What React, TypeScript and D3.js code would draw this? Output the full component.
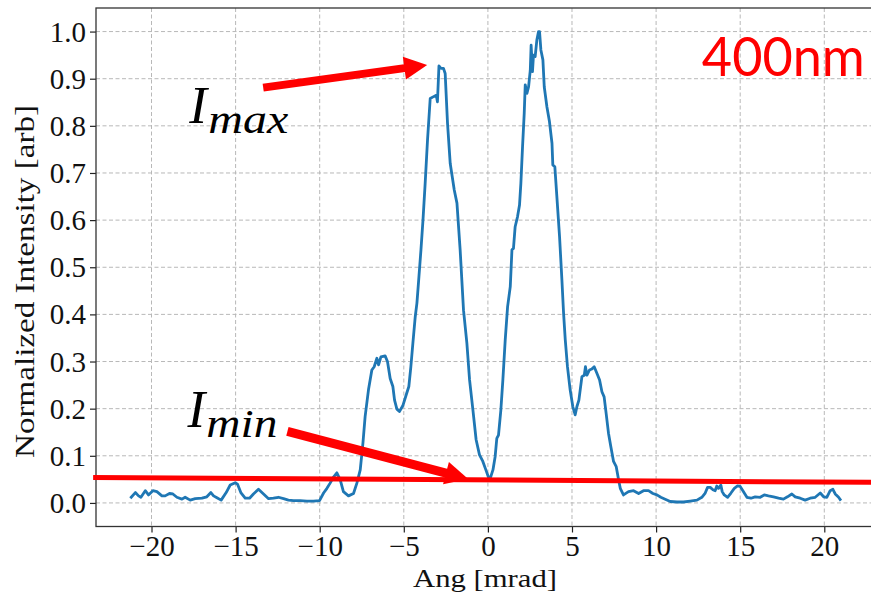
import React, { useRef, useEffect } from 'react';
import * as d3 from 'd3';

// traced curve, [angle mrad, normalized intensity]
const leftWing: [number, number][] = [
  [-21.26, 0.010], [-20.96, 0.022], [-20.77, 0.015], [-20.63, 0.012], [-20.37, 0.026],
  [-20.18, 0.017], [-19.92, 0.026], [-19.68, 0.024], [-19.38, 0.015], [-19.19, 0.015],
  [-18.93, 0.020], [-18.73, 0.019], [-18.49, 0.012], [-18.19, 0.008], [-18.0, 0.012],
  [-17.7, 0.006], [-17.4, 0.009], [-17.0, 0.010], [-16.71, 0.013], [-16.47, 0.022],
  [-16.31, 0.015], [-16.11, 0.011], [-15.86, 0.006], [-15.56, 0.022], [-15.32, 0.038],
  [-15.02, 0.043], [-14.89, 0.040], [-14.69, 0.022], [-14.43, 0.010], [-14.17, 0.010],
  [-13.94, 0.019], [-13.64, 0.029], [-13.34, 0.019], [-13.04, 0.009], [-12.75, 0.010],
  [-12.45, 0.012], [-12.15, 0.009], [-11.86, 0.006], [-11.56, 0.005], [-11.16, 0.005],
  [-10.76, 0.004], [-10.37, 0.004], [-10.01, 0.005], [-9.77, 0.021], [-9.57, 0.031],
  [-9.38, 0.042], [-9.18, 0.055], [-8.98, 0.064], [-8.78, 0.049], [-8.59, 0.024],
  [-8.29, 0.015], [-7.99, 0.020],
];

const leftPeak: [number, number][] = [
  [-7.79, 0.042], [-7.59, 0.070], [-7.43, 0.127], [-7.30, 0.183], [-7.10, 0.240],
  [-6.90, 0.282], [-6.76, 0.289], [-6.60, 0.307], [-6.50, 0.293], [-6.36, 0.310],
  [-6.11, 0.312], [-5.97, 0.300], [-5.81, 0.264], [-5.65, 0.247], [-5.55, 0.218],
  [-5.41, 0.199], [-5.26, 0.194], [-5.06, 0.206], [-4.86, 0.229], [-4.70, 0.247],
  [-4.58, 0.289], [-4.46, 0.339], [-4.32, 0.395], [-4.22, 0.424], [-4.10, 0.480],
  [-3.98, 0.537], [-3.86, 0.600], [-3.73, 0.678], [-3.59, 0.770], [-3.43, 0.858],
  [-3.23, 0.862], [-3.07, 0.865], [-3.0, 0.851], [-2.91, 0.927], [-2.79, 0.922],
  [-2.64, 0.922], [-2.54, 0.911], [-2.40, 0.805], [-2.24, 0.720], [-2.0, 0.664],
  [-1.84, 0.636], [-1.65, 0.537], [-1.45, 0.409], [-1.25, 0.339], [-1.09, 0.261],
  [-0.89, 0.197], [-0.70, 0.134], [-0.50, 0.102], [-0.30, 0.088], [-0.10, 0.068],
  [0.04, 0.054],
];

const rightPeak: [number, number][] = [
  [0.14, 0.052], [0.30, 0.070], [0.43, 0.098], [0.53, 0.137], [0.63, 0.144],
  [0.77, 0.197], [0.89, 0.261], [1.03, 0.346], [1.17, 0.416], [1.33, 0.459],
  [1.43, 0.537], [1.52, 0.540], [1.62, 0.586], [1.76, 0.607], [1.88, 0.632],
  [1.96, 0.678], [2.06, 0.756], [2.16, 0.827], [2.22, 0.887], [2.32, 0.869],
  [2.42, 0.883], [2.52, 0.918], [2.57, 0.971], [2.65, 0.915], [2.71, 0.950],
  [2.81, 0.947], [2.91, 0.982], [3.01, 1.0], [3.07, 1.0], [3.15, 0.961],
  [3.27, 0.940], [3.35, 0.883], [3.51, 0.840], [3.66, 0.809], [3.81, 0.763],
  [3.86, 0.717], [3.98, 0.713], [4.10, 0.650], [4.26, 0.565], [4.40, 0.473],
  [4.50, 0.402], [4.60, 0.346], [4.73, 0.289], [4.89, 0.240], [5.05, 0.204],
  [5.19, 0.187], [5.29, 0.204], [5.41, 0.218], [5.59, 0.268], [5.73, 0.271],
  [5.80, 0.289], [5.89, 0.271], [6.04, 0.282], [6.18, 0.284], [6.32, 0.289],
  [6.48, 0.275], [6.64, 0.261], [6.78, 0.236], [6.91, 0.225], [7.03, 0.190],
  [7.17, 0.148], [7.31, 0.119], [7.47, 0.088], [7.63, 0.077], [7.77, 0.049],
  [7.87, 0.031], [8.06, 0.017],
];

const rightWing: [number, number][] = [
  [8.36, 0.024], [8.66, 0.026], [8.96, 0.020], [9.25, 0.026], [9.55, 0.026],
  [9.81, 0.020], [10.05, 0.017], [10.28, 0.012], [10.54, 0.008], [10.84, 0.003],
  [11.24, 0.002], [11.63, 0.002], [12.03, 0.004], [12.43, 0.006], [12.72, 0.012],
  [12.92, 0.021], [13.06, 0.033], [13.22, 0.033], [13.38, 0.028], [13.51, 0.026],
  [13.61, 0.036], [13.71, 0.031], [13.85, 0.038], [13.93, 0.024], [14.05, 0.017],
  [14.25, 0.012], [14.45, 0.021], [14.65, 0.031], [14.84, 0.036], [15.0, 0.035],
  [15.16, 0.026], [15.40, 0.012], [15.64, 0.010], [15.89, 0.013], [16.19, 0.012],
  [16.43, 0.017], [16.68, 0.015], [16.98, 0.013], [17.28, 0.010], [17.57, 0.008],
  [17.81, 0.013], [18.07, 0.019], [18.27, 0.013], [18.57, 0.010], [18.86, 0.006],
  [19.16, 0.010], [19.46, 0.012], [19.76, 0.021], [19.96, 0.013], [20.15, 0.012],
  [20.35, 0.026], [20.51, 0.029], [20.65, 0.019], [20.85, 0.012], [20.99, 0.005],
];

const xTicks = [-20, -15, -10, -5, 0, 5, 10, 15, 20];
const yTicks = [0, 0.1, 0.2, 0.3, 0.4, 0.5, 0.6, 0.7, 0.8, 0.9, 1.0];
const xDomain: [number, number] = [-23.3, 23.3];
const yDomain: [number, number] = [-0.05, 1.05];

// annotations, in data coordinates
const minLine: [number, number][] = [[-23.47, 0.054], [23.34, 0.0435]];
const maxArrow: [number, number][] = [[-13.36, 0.881], [-3.61, 0.929]];
const minArrow: [number, number][] = [[-11.92, 0.152], [-1.17, 0.051]];
const maxLabel = { x: -17.75, y: 0.806, sub: 'max', subX: -16.62, subY: 0.785 };
const minLabel = { x: -17.86, y: 0.161, sub: 'min', subX: -16.74, subY: 0.140 };
const waveLabel = { x: 12.72, y: 0.906, text: '400nm' };

const W = 871;
const H = 597;
const serif = '"Liberation Serif", "Times New Roman", serif';

const App = () => {
  const svgRef = useRef<SVGSVGElement>(null);

  useEffect(() => {
    const svg = d3.select(svgRef.current);
    svg.selectAll('*').remove();

    const x = d3.scaleLinear().domain(xDomain).range([96, 879.8]);
    const y = d3.scaleLinear().domain(yDomain).range([526.5, 8]);
    const [x0, x1] = x.range();
    const [y0, y1] = y.range();

    // grid
    const grid = svg.append('g');
    grid.selectAll('.gx').data(xTicks).join('line')
      .attr('x1', d => x(d)).attr('x2', d => x(d))
      .attr('y1', y1).attr('y2', y0);
    grid.selectAll('.gy').data(yTicks).join('line')
      .attr('x1', x0).attr('x2', x1)
      .attr('y1', d => y(d)).attr('y2', d => y(d));
    grid.selectAll('line')
      .attr('stroke', '#b8b8b8')
      .attr('stroke-width', 1)
      .attr('stroke-dasharray', '4,2.5');

    // axes
    const xAxis = svg.append('g')
      .attr('transform', `translate(0,${y0})`)
      .call(d3.axisBottom(x).tickValues(xTicks).tickSize(6).tickPadding(4));
    const yAxis = svg.append('g')
      .attr('transform', `translate(${x0},0)`)
      .call(d3.axisLeft(y).tickValues(yTicks).tickFormat(d3.format('.1f')).tickSize(6).tickPadding(4));
    [xAxis, yAxis].forEach(a => {
      a.select('.domain').remove();
      a.selectAll('.tick line').attr('stroke', '#222').attr('stroke-width', 1.2);
      a.selectAll('.tick text')
        .attr('fill', '#111')
        .style('font-family', serif)
        .style('font-size', '29px');
    });
    xAxis.selectAll('.tick text').attr('y', 29.5).attr('dy', 0);
    yAxis.selectAll('.tick text').attr('x', -10).attr('dy', '0.33em');

    // frame
    svg.append('rect')
      .attr('x', x0).attr('y', y1)
      .attr('width', x1 - x0).attr('height', y0 - y1)
      .attr('fill', 'none').attr('stroke', '#333').attr('stroke-width', 1.3);

    // curve
    const line = d3.line<[number, number]>().x(d => x(d[0])).y(d => y(d[1]));
    svg.append('path')
      .datum([...leftWing, ...leftPeak, ...rightPeak, ...rightWing])
      .attr('d', line)
      .attr('fill', 'none')
      .attr('stroke', '#1f77b4')
      .attr('stroke-width', 2.8)
      .attr('stroke-linejoin', 'round');

    // axis labels
    svg.append('text')
      .attr('x', 485).attr('y', 587)
      .attr('text-anchor', 'middle')
      .attr('textLength', 144).attr('lengthAdjust', 'spacingAndGlyphs')
      .style('font-family', serif).style('font-size', '26px').attr('fill', '#111')
      .text('Ang [mrad]');
    svg.append('text')
      .attr('transform', 'translate(34,281.5) rotate(-90)')
      .attr('text-anchor', 'middle')
      .attr('textLength', 353).attr('lengthAdjust', 'spacingAndGlyphs')
      .style('font-family', serif).style('font-size', '28px').attr('fill', '#111')
      .text('Normalized Intensity [arb]');

    // red annotations
    svg.append('path')
      .datum(minLine)
      .attr('d', line)
      .attr('stroke', '#ff0000').attr('stroke-width', 5).attr('fill', 'none');

    const drawArrow = (pts: [number, number][], width: number) => {
      const [sx, sy] = [x(pts[0][0]), y(pts[0][1])];
      const [tx, ty] = [x(pts[1][0]), y(pts[1][1])];
      const len = Math.hypot(tx - sx, ty - sy);
      const ux = (tx - sx) / len, uy = (ty - sy) / len;
      const hl = 23, hw = 11.5;
      const bx = tx - ux * hl, by = ty - uy * hl;
      svg.append('line')
        .attr('x1', sx).attr('y1', sy).attr('x2', bx + ux * 2).attr('y2', by + uy * 2)
        .attr('stroke', '#ff0000').attr('stroke-width', width);
      svg.append('polygon')
        .attr('points', [[tx, ty], [bx - uy * hw, by + ux * hw], [bx + uy * hw, by - ux * hw]]
          .map(p => p.join(',')).join(' '))
        .attr('fill', '#ff0000');
    };
    drawArrow(maxArrow, 8);
    drawArrow(minArrow, 9);

    [maxLabel, minLabel].forEach(l => {
      svg.append('text')
        .attr('x', x(l.x)).attr('y', y(l.y))
        .style('font-family', serif).style('font-style', 'italic').style('font-size', '53px')
        .attr('fill', '#000')
        .text('I');
      svg.append('text')
        .attr('x', x(l.subX)).attr('y', y(l.subY))
        .attr('textLength', l.sub === 'max' ? 80 : 71).attr('lengthAdjust', 'spacingAndGlyphs')
        .style('font-family', serif).style('font-style', 'italic').style('font-size', '40px')
        .attr('fill', '#000')
        .text(l.sub);
    });

    svg.append('text')
      .attr('x', x(waveLabel.x)).attr('y', y(waveLabel.y))
      .attr('textLength', 163).attr('lengthAdjust', 'spacingAndGlyphs')
      .style('font-family', 'Lato, "Open Sans", sans-serif').style('font-size', '54px')
      .attr('fill', '#ff0000')
      .text(waveLabel.text);
  }, []);

  return (
    <svg
      ref={svgRef}
      width={W}
      height={H}
      style={{ position: 'fixed', left: 0, top: 0, background: '#fff', overflow: 'hidden' }}
    />
  );
};

export default App;
